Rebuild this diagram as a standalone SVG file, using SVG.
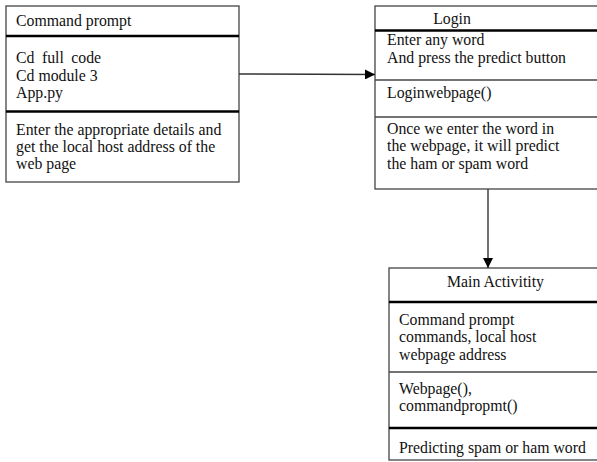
<svg xmlns="http://www.w3.org/2000/svg" width="597" height="462" viewBox="0 0 597 462">
  <defs>
    <marker id="arrow" viewBox="0 0 10 10" refX="10" refY="5" markerWidth="10" markerHeight="10" markerUnits="userSpaceOnUse" orient="auto">
      <path d="M0,0 L10,5 L0,10 Z" fill="#000"/>
    </marker>
  </defs>
  <style>
    .box { fill: #fff; stroke: #444; stroke-width: 1.3; }
    .thin { stroke: #444; stroke-width: 1.3; }
    .thick { stroke: #000; stroke-width: 2.6; }
    .edge { stroke: #333; stroke-width: 1.4; fill: none; }
    text { font-family: "Liberation Serif", "Times New Roman", serif; font-size: 15.8px; fill: #111; }
    .wide { word-spacing: 3.5px; }
  </style>

  <!-- Command prompt class -->
  <g id="command-prompt">
    <rect class="box" x="6" y="6" width="233" height="176"/>
    <line class="thick" x1="6" y1="36" x2="239" y2="36"/>
    <line class="thick" x1="6" y1="111.5" x2="239" y2="111.5"/>
    <text x="16" y="26">Command prompt</text>
    <text class="wide" x="16" y="63">Cd full code</text>
    <text x="16" y="80.5">Cd module 3</text>
    <text x="16" y="98">App.py</text>
    <text x="16" y="135">Enter the appropriate details and</text>
    <text x="16" y="152">get the local host address of the</text>
    <text x="16" y="169">web page</text>
  </g>

  <!-- Login class -->
  <g id="login">
    <rect class="box" x="375" y="6" width="240" height="183"/>
    <line class="thick" x1="375" y1="30.5" x2="615" y2="30.5"/>
    <line class="thin" x1="375" y1="80" x2="615" y2="80"/>
    <line class="thin" x1="375" y1="117" x2="615" y2="117"/>
    <text x="452" y="24" text-anchor="middle">Login</text>
    <text x="387" y="45">Enter any word</text>
    <text x="387" y="63">And press the predict button</text>
    <text x="387" y="98">Loginwebpage()</text>
    <text x="387" y="133.5">Once we enter the word in</text>
    <text x="387" y="151">the webpage, it will predict</text>
    <text x="387" y="168.5">the ham or spam word</text>
  </g>

  <!-- Main Activity class -->
  <g id="main-activity">
    <rect class="box" x="389" y="268" width="226" height="192"/>
    <line class="thick" x1="389" y1="302" x2="615" y2="302"/>
    <line class="thin" x1="389" y1="372" x2="615" y2="372"/>
    <line class="thick" x1="389" y1="428" x2="615" y2="428"/>
    <text x="495.5" y="287" text-anchor="middle">Main Activitity</text>
    <text x="399" y="325">Command prompt</text>
    <text x="399" y="342">commands, local host</text>
    <text x="399" y="359.5">webpage address</text>
    <text x="399" y="393.5">Webpage(),</text>
    <text x="399" y="411">commandpropmt()</text>
    <text x="399" y="453">Predicting spam or ham word</text>
  </g>

  <!-- Connectors -->
  <g id="connectors">
    <line class="edge" x1="239" y1="74" x2="375" y2="74.5" marker-end="url(#arrow)"/>
    <line class="edge" x1="488" y1="189" x2="488" y2="268" marker-end="url(#arrow)"/>
  </g>
</svg>
